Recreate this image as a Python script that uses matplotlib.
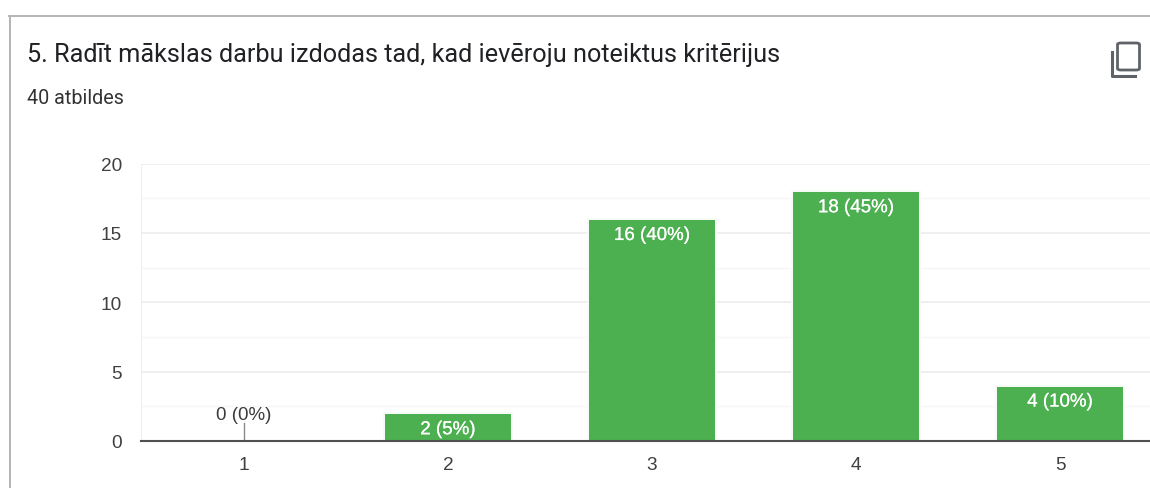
import matplotlib
matplotlib.use("Agg")
import matplotlib.pyplot as plt
import matplotlib.patheffects as pe
from matplotlib.lines import Line2D
from matplotlib.patches import FancyBboxPatch

W, H = 1150, 489

categories = ["1", "2", "3", "4", "5"]
counts = [0, 2, 16, 18, 4]
percents = [0, 5, 40, 45, 10]
y_ticks = [0, 5, 10, 15, 20]
y_minor = [2.5, 7.5, 12.5, 17.5]

title = "5. Radīt mākslas darbu izdodas tad, kad ievēroju noteiktus kritērijus"
subtitle = "40 atbildes"

plt.rcParams["font.family"] = ["Liberation Sans", "DejaVu Sans"]

fig = plt.figure(figsize=(W / 100, H / 100), dpi=100, facecolor="white")

# axes placed in pixels, from the top left of the picture
left, right, top, bottom = 141, 1150, 164.5, 442
ax = fig.add_axes([left / W, 1 - bottom / H, (right - left) / W, (bottom - top) / H])

spacing = 204
positions = list(range(len(categories)))
ax.set_xlim(-(244 - left) / spacing, (right - 244) / spacing)
ax.set_ylim(0, 20)

for v in y_ticks[1:]:
    ax.axhline(v, color="#ebebeb", lw=1.1, zorder=1)
for v in y_minor:
    ax.axhline(v, color="#f5f5f5", lw=1, zorder=1)
ax.axvline(ax.get_xlim()[0], color="#ebebeb", lw=1.1, zorder=1)

# pale edge around the bars, like the chart's thin outline
ax.bar(positions, counts, width=0.632, color="#4caf50", edgecolor="#f6fbf6",
       linewidth=1.44, zorder=2)

for x, c, p in zip(positions, counts, percents):
    label = f"{c} ({p}%)"
    if c == 0:
        ax.plot([x, x], [0, 1.3], color="#8a8a8a", lw=1, zorder=3)
        ax.text(x, 1.92, label, ha="center", va="center", fontsize=13.5, color="#3c3c3c")
    else:
        ax.annotate(label, (x, c), xytext=(0, -16.5), textcoords="offset pixels",
                    ha="center", va="center", fontsize=13.5, color="white", zorder=4,
                    path_effects=[pe.withStroke(linewidth=0.12, foreground="white")])

ax.axhline(0, color="#505050", lw=1.5, zorder=5, clip_on=False)

for s in ax.spines.values():
    s.set_visible(False)
ax.set_xticks(positions, categories)
ax.set_yticks(y_ticks, [str(v) for v in y_ticks])
ax.tick_params(length=0, labelsize=13.7, labelcolor="#404040")
ax.tick_params(axis="x", pad=10.5)
ax.tick_params(axis="y", pad=13.7)

# card border
fig.add_artist(Line2D([9.5 / W, 9.5 / W], [0, 1 - 16.5 / H], color="#a8a8a8", lw=1.2))
fig.add_artist(Line2D([9 / W, 1], [1 - 16.5 / H, 1 - 16.5 / H], color="#b4b4b4", lw=1.4))

fig.text(27 / W, 1 - 55 / H, title, fontsize=18.17, color="#202124",
         family=["Roboto", "DejaVu Sans"], va="center", ha="left")
fig.text(27 / W, 1 - 98.5 / H, subtitle, fontsize=14.2, color="#333333",
         family=["Roboto", "DejaVu Sans"], va="center", ha="left")

# copy icon
icon = "#5f6368"
fig.add_artist(FancyBboxPatch((1117.5 / W, 1 - 71 / H), 22 / W, 27 / H,
                              boxstyle="round,pad=0,rounding_size=0.003",
                              fc="white", ec=icon, lw=2, transform=fig.transFigure))
fig.add_artist(Line2D([1112 / W, 1112 / W, 1135 / W],
                      [1 - 53 / H, 1 - 76.5 / H, 1 - 76.5 / H], color=icon, lw=2.2))

fig.savefig("out.png", dpi=100)
